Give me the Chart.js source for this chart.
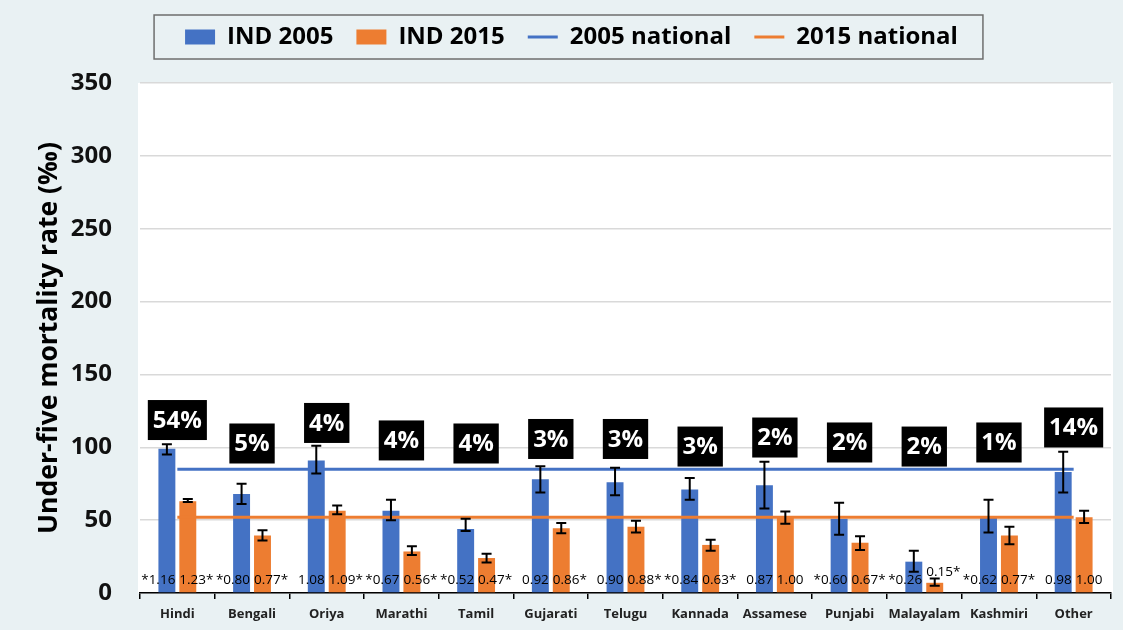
<!DOCTYPE html>
<html>
<head>
<meta charset="utf-8">
<script src="https://cdn.jsdelivr.net/npm/chart.js@4.4.1/dist/chart.umd.min.js"></script>
<style>
  body { margin: 0; background: #e9f1f3; }
  #wrap { width: 1123px; height: 630px; }
</style>
</head>
<body>
<div id="wrap"><canvas id="chartBar"></canvas></div>
<script>
// languages
const languages = ['Hindi', 'Bengali', 'Oriya', 'Marathi', 'Tamil', 'Gujarati', 'Telugu',
    'Kannada', 'Assamese', 'Punjabi', 'Malayalam', 'Kashmiri', 'Other']

// under-five mortality, per 1000
const ind2005 = [99, 68, 91, 56.5, 44, 78, 76, 71, 74, 51, 21.5, 52, 83]
const ind2005Low = [95, 61, 82, 50, 42.5, 69, 67, 64, 58, 40, 14.5, 41.5, 69]
const ind2005High = [102, 75, 101, 64, 51, 87, 86, 79, 90, 62, 29, 64, 97]

const ind2015 = [63, 39.5, 56.5, 28.5, 24, 44.5, 45.5, 33, 52, 34.5, 7, 39.5, 52]
const ind2015Low = [62.5, 36, 54, 26, 21, 41, 41.5, 29, 47.5, 29.5, 5, 33.5, 48]
const ind2015High = [64.5, 43, 60, 32, 27, 48, 49.5, 36.5, 56, 39, 10, 45.5, 56.5]

const national2005 = [85, 85, 85, 85, 85, 85, 85, 85, 85, 85, 85, 85, 85]
const national2015 = [52, 52, 52, 52, 52, 52, 52, 52, 52, 52, 52, 52, 52]

// ratio labels at the foot of each bar
const ratio2005 = ['*1.16', '*0.80', '1.08', '*0.67', '*0.52', '0.92', '0.90', '*0.84', '0.87', '*0.60', '*0.26', '*0.62', '0.98']
const ratio2015 = ['1.23*', '0.77*', '1.09*', '0.56*', '0.47*', '0.86*', '0.88*', '0.63*', '1.00', '0.67*', '0.15*', '0.77*', '1.00']

// share of population
const shares = ['54%', '5%', '4%', '4%', '4%', '3%', '3%', '3%', '2%', '2%', '2%', '1%', '14%']
const shareAt = [118.7, 102.6, 116.7, 104.7, 102.6, 105.7, 105.7, 100.5, 106.7, 103.3, 100.5, 103.3, 113.6]

const yTicks = [0, 50, 100, 150, 200, 250, 300, 350]

const BLUE = '#4472c4'
const ORANGE = '#ed7d31'
const FONT = "'Open Sans', 'Liberation Sans', sans-serif"

const backgroundPlugin = {
    id: 'background',
    beforeInit(chart) {
        // leave room under the legend, like the original
        const legend = chart.legend
        const fit = legend.fit
        legend.fit = function () {
            fit.call(this)
            this.height += 24
        }
    },
    beforeDraw(chart) {
        const { ctx, chartArea: a } = chart
        ctx.save()
        ctx.fillStyle = '#e9f1f3'
        ctx.fillRect(0, 0, chart.width, chart.height)
        ctx.fillStyle = '#ffffff'
        ctx.fillRect(a.left - 2, a.top, a.right - a.left + 4, a.bottom - a.top)
        ctx.restore()
    }
}

const legendBoxPlugin = {
    id: 'legendBox',
    afterDraw(chart) {
        const boxes = chart.legend.legendHitBoxes
        if (!boxes || !boxes.length) return
        const first = boxes[0]
        const last = boxes[boxes.length - 1]
        const ctx = chart.ctx
        ctx.save()
        ctx.strokeStyle = '#6e6e6e'
        ctx.lineWidth = 1.5
        ctx.strokeRect(first.left - 31, first.top - 10, last.left + last.width - first.left + 56, first.height + 20)
        ctx.restore()
    }
}

// error bars, ratio labels and share boxes
const annotatePlugin = {
    id: 'annotate',
    afterDatasetsDraw(chart) {
        const { ctx, scales } = chart
        const y = scales.y
        const series = [
            { idx: 0, low: ind2005Low, high: ind2005High, labels: ratio2005, align: 'right' },
            { idx: 1, low: ind2015Low, high: ind2015High, labels: ratio2015, align: 'left' }
        ]
        ctx.save()
        series.forEach(s => {
            const meta = chart.getDatasetMeta(s.idx)
            meta.data.forEach((bar, j) => {
                const yl = y.getPixelForValue(s.low[j])
                const yh = y.getPixelForValue(s.high[j])
                ctx.strokeStyle = '#000'
                ctx.lineWidth = 2
                ctx.beginPath()
                ctx.moveTo(bar.x, yl); ctx.lineTo(bar.x, yh)
                ctx.moveTo(bar.x - 5, yl); ctx.lineTo(bar.x + 5, yl)
                ctx.moveTo(bar.x - 5, yh); ctx.lineTo(bar.x + 5, yh)
                ctx.stroke()

                // ratio label: 2005 ends at the bar's right edge, 2015 starts at its left edge
                let ty = y.getPixelForValue(0) - 13
                if (bar.y > ty - 4) ty = bar.y - 11
                ctx.font = '13.5px ' + FONT
                ctx.fillStyle = '#000'
                ctx.textBaseline = 'middle'
                ctx.textAlign = s.align
                const half = bar.width / 2
                const tx = s.align === 'right' ? bar.x + half : bar.x - half
                ctx.fillText(s.labels[j], tx, ty)
            })
        })

        // share boxes
        ctx.font = 'bold 24px ' + FONT
        ctx.textAlign = 'center'
        ctx.textBaseline = 'middle'
        shares.forEach((t, j) => {
            const cx = scales.x.getPixelForValue(j)
            const cy = y.getPixelForValue(shareAt[j])
            const w = ctx.measureText(t).width + 10
            ctx.fillStyle = '#000'
            ctx.fillRect(cx - w / 2, cy - 20, w, 40)
            ctx.fillStyle = '#fff'
            ctx.fillText(t, cx, cy + 1)
        })
        ctx.restore()
    }
}

const data = {
    labels: languages,
    datasets: [
        {
            label: 'IND 2005',
            data: ind2005,
            backgroundColor: BLUE,
            borderWidth: 0,
            pointStyle: 'rect',
            order: 1,
            categoryPercentage: 0.56,
            barPercentage: 0.81
        },
        {
            label: 'IND 2015',
            data: ind2015,
            backgroundColor: ORANGE,
            borderWidth: 0,
            pointStyle: 'rect',
            order: 1,
            categoryPercentage: 0.56,
            barPercentage: 0.81
        },
        {
            type: 'line',
            label: '2005 national',
            data: national2005,
            borderColor: BLUE,
            backgroundColor: BLUE,
            borderWidth: 3,
            pointRadius: 0,
            pointStyle: 'line',
            fill: false,
            order: 0
        },
        {
            type: 'line',
            label: '2015 national',
            data: national2015,
            borderColor: ORANGE,
            backgroundColor: ORANGE,
            borderWidth: 3,
            pointRadius: 0,
            pointStyle: 'line',
            fill: false,
            order: 0
        }
    ]
}

const config = {
    type: 'bar',
    data: data,
    options: {
        responsive: true,
        maintainAspectRatio: false,
        animation: false,
        layout: { padding: { top: 2, left: 32, right: 12, bottom: 0 } },
        plugins: {
            tooltip: { enabled: false },
            legend: {
                position: 'top',
                labels: {
                    usePointStyle: true,
                    pointStyleWidth: 30,
                    boxHeight: 15,
                    padding: 23,
                    color: '#000',
                    font: { family: FONT, size: 24, weight: 'bold' },
                    sort: (a, b) => a.datasetIndex - b.datasetIndex
                }
            }
        },
        scales: {
            x: {
                offset: true,
                afterFit: (axis) => { axis.height = 37 },
                grid: {
                    display: true,
                    drawOnChartArea: false,
                    drawTicks: true,
                    tickLength: 6,
                    color: '#000',
                    lineWidth: 1.5
                },
                border: { display: true, color: '#000', width: 1.5 },
                ticks: {
                    color: '#222',
                    padding: 7,
                    autoSkip: false,
                    maxRotation: 0,
                    minRotation: 0,
                    font: { family: FONT, size: 13, weight: 'bold' }
                }
            },
            y: {
                min: 0,
                max: 350,
                afterFit: (axis) => {
                    axis.width = 108
                    // tick padding would otherwise push the plot up from the bottom
                    axis.paddingTop = 0
                    axis.paddingBottom = 0
                },
                afterBuildTicks: (axis) => { axis.ticks = yTicks.map(v => ({ value: v })) },
                grid: { color: '#d9d9d9', lineWidth: 1.5, drawTicks: false },
                border: { display: false },
                ticks: {
                    color: '#111',
                    padding: 28,
                    font: { family: FONT, size: 24, weight: 'bold' }
                },
                title: {
                    display: true,
                    text: 'Under-five mortality rate (‰)',
                    color: '#000',
                    padding: 2,
                    font: { family: FONT, size: 26.5, weight: 'bold' }
                }
            }
        }
    },
    plugins: [backgroundPlugin, legendBoxPlugin, annotatePlugin]
}

let ctx = document.getElementById('chartBar').getContext('2d')
let chart = new Chart(ctx, config)
</script>
</body>
</html>
